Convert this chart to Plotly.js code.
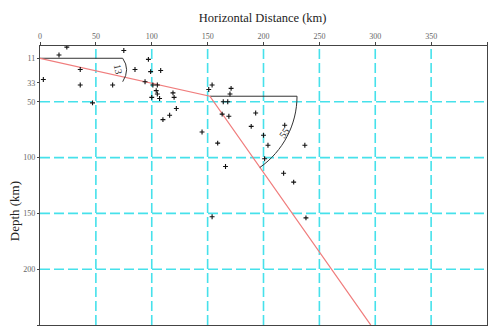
<!DOCTYPE html>
<html>
<head>
<meta charset="utf-8">
<script src="https://cdn.plot.ly/plotly-3.0.1.min.js"></script>
<style>html,body{margin:0;padding:0;background:#fff;}#chart{width:489px;height:327px;}</style>
</head>
<body>
<div id="chart"></div>
<script>
// Earthquake hypocentres (horizontal distance km, depth km)
const quakeX = [24, 17, 75, 36, 3, 36, 65, 47, 85, 97, 99, 108, 94, 101, 105, 104, 105, 100, 107, 119, 120, 122, 116, 110,
                151, 154, 171, 170, 164, 168, 163, 169, 193, 145, 189, 200, 159, 204, 219, 201, 166, 218, 154, 237, 227, 238];
const quakeY = [1, 8, 4, 21, 30, 35, 35, 51, 21, 12, 23, 22, 32, 35, 35, 40, 43, 46, 47, 42, 46, 56, 62, 66,
                39, 35, 38, 43, 50, 50, 61, 63, 60, 77, 72, 80, 87, 89, 71, 101, 108, 114, 153, 89, 122, 154];
// Slab (dipping plane) profile
const slabX = [0, 152, 296];
const slabY = [11, 45, 250];
// Horizontal reference lines
const ref1X = [0, 74];  const ref1Y = [11, 11];
const ref2X = [152, 230]; const ref2Y = [45, 45];
// Axis ticks
const xTicks = [0, 50, 100, 150, 200, 250, 300, 350, 400];
const xGrid = [50, 100, 150, 200, 250, 300, 350];
const yTicks = [11, 33, 50, 100, 150, 200, 250];
const yGrid = [50, 100, 150, 200];
// Dip angles
const dipLabels = ['13', '55'];

const serif = 'Liberation Serif';
const gridColor = 'rgb(70,225,235)';
const gridDash = '10px,4px';

const traces = [
  {x: ref1X, y: ref1Y, mode: 'lines', line: {color: '#333', width: 1}, hoverinfo: 'skip'},
  {x: ref2X, y: ref2Y, mode: 'lines', line: {color: '#333', width: 1}, hoverinfo: 'skip'},
  {x: slabX, y: slabY, mode: 'lines', line: {color: 'rgb(240,125,125)', width: 1.3}},
  {x: quakeX, y: quakeY, mode: 'markers',
   marker: {symbol: 'cross-thin', size: 3.5, color: '#111', line: {color: '#111', width: 1.1}}}
];

const shapes = [];
yGrid.forEach(v => shapes.push({
  type: 'line', xref: 'paper', x0: 0, x1: 1, yref: 'y', y0: v, y1: v,
  line: {color: gridColor, width: 1.6, dash: gridDash}, layer: 'below'
}));
xGrid.forEach(v => shapes.push({
  type: 'line', yref: 'paper', y0: 0, y1: 1, xref: 'x', x0: v, x1: v,
  line: {color: gridColor, width: 1.6, dash: gridDash}, layer: 'below'
}));
// dip arcs
shapes.push({type: 'path', xref: 'x', yref: 'y',
  path: 'M 74 11 Q 81 21 74 32', line: {color: '#333', width: 1}});
shapes.push({type: 'path', xref: 'x', yref: 'y',
  path: 'M 230 45 C 230 70.4 217.5 94.3 196.7 108.9', line: {color: '#333', width: 1}});

const layout = {
  width: 489, height: 327,
  margin: {l: 40, r: 2, t: 46, b: 2},
  paper_bgcolor: '#fff', plot_bgcolor: '#fff',
  showlegend: false,
  font: {family: serif},
  title: {text: 'Horizontal Distance (km)', x: 0.537, xanchor: 'center', y: 0.945, yanchor: 'middle',
          font: {family: serif, size: 12.5, color: '#222'}},
  xaxis: {
    side: 'top', range: [0, 400], tickvals: xTicks, ticktext: xTicks.map(String),
    showgrid: false, zeroline: false, showline: true, linecolor: '#444', linewidth: 1.2, mirror: true,
    ticks: 'outside', ticklen: 3, tickcolor: '#444',
    tickfont: {family: serif, size: 8, color: '#666'}
  },
  yaxis: {
    range: [250, 0], tickvals: yTicks, ticktext: yTicks.map(String),
    showgrid: false, zeroline: false, showline: true, linecolor: '#444', linewidth: 1.2, mirror: true,
    ticks: 'outside', ticklen: 2, tickcolor: '#444',
    tickfont: {family: serif, size: 8, color: '#666'}
  },
  shapes: shapes,
  annotations: [
    {text: 'Depth (km)', xref: 'paper', x: -0.058, xanchor: 'center', yanchor: 'middle', yref: 'y', y: 148,
     showarrow: false, textangle: -90,
     font: {family: serif, size: 13, color: '#222'}},
    {text: dipLabels[0], xref: 'x', yref: 'y', x: 70, y: 21, showarrow: false, textangle: 80,
     font: {family: serif, size: 10, color: '#333'}},
    {text: dipLabels[1], xref: 'x', yref: 'y', x: 218, y: 78, showarrow: false, textangle: -55,
     font: {family: serif, size: 10, color: '#333'}}
  ]
};

Plotly.newPlot('chart', traces, layout, {displayModeBar: false, staticPlot: true});
</script>
</body>
</html>
